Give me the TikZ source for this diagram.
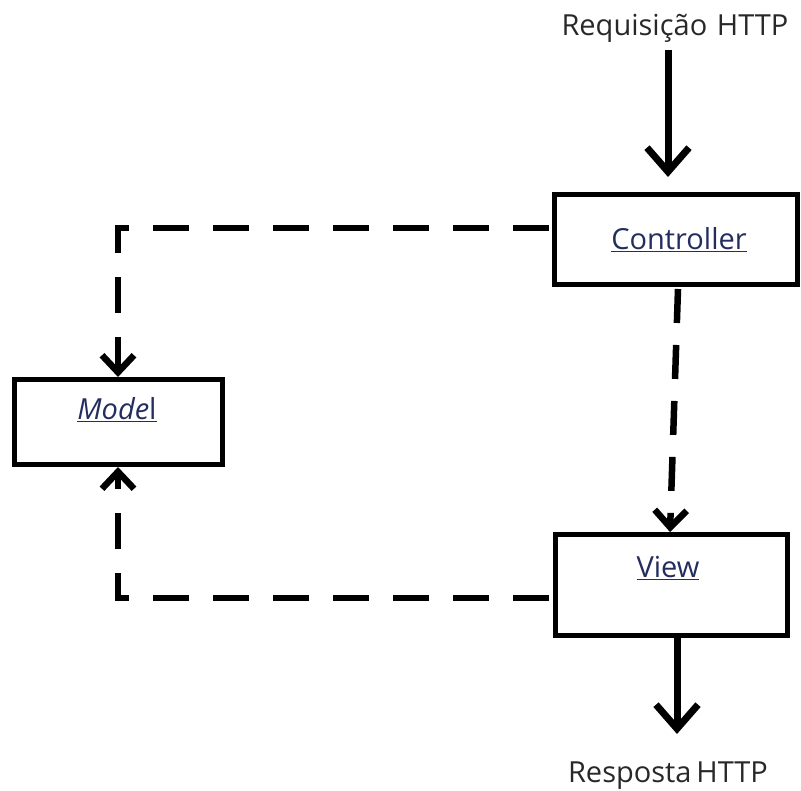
\documentclass[tikz,border=0pt]{standalone}
\usepackage{fontspec}
\setmainfont{Open Sans}
\usetikzlibrary{arrows.meta}
\definecolor{navy}{RGB}{35,45,95}
\definecolor{ink}{RGB}{40,40,40}
\begin{document}
\begin{tikzpicture}[x=1pt,y=-1pt,
 box/.style={draw=black, line width=5pt, fill=white, inner sep=0pt},
 lbl/.style={font=\fontsize{29}{34}\selectfont, text=ink, inner sep=0pt},
 boxtxt/.style={font=\fontsize{29}{34}\selectfont, text=navy, inner sep=0pt},
 bigarrow/.style={line width=7pt, -{Straight Barb[length=24pt,width=42pt]}},
 dasharrow/.style={line width=6.5pt, dash pattern=on 36pt off 24pt, -{Straight Barb[length=17pt,width=32pt]}},
]
\useasboundingbox (0,0) rectangle (801,791);
\node[box, minimum width=243pt, minimum height=90pt] (ctrl) at (676,239.5) {};
\node[box, minimum width=208pt, minimum height=85pt] (model) at (118.5,422) {};
\node[box, minimum width=232pt, minimum height=101pt] (view) at (671.5,585) {};
\node[boxtxt] (ctrltxt) at (679,240) {\underline{Controller}};
\node[boxtxt] (modeltxt) at (117,410) {\underline{\textit{Mode}l}};
\node[boxtxt] (viewtxt) at (668,568) {\underline{View}};
\node[lbl] (req) at (675,28) {Requisição\,\,HTTP};
\node[lbl] (resp) at (668,776) {Resposta\,HTTP};
% connector end points
\coordinate (r1) at (668,50);
\coordinate (r2) at (668,177);
\coordinate (c1) at (549,228);
\coordinate (k1) at (118,228);
\coordinate (m1) at (118,377);
\coordinate (c2) at (678,289);
\coordinate (v1) at (670,532);
\coordinate (v2) at (549,598);
\coordinate (k2) at (118,598);
\coordinate (m2) at (118,467);
\coordinate (v3) at (677,638);
\coordinate (e1) at (677,734);
\draw[bigarrow] (r1) -- (r2);
\draw[bigarrow] (v3) -- (e1);
\draw[dasharrow] (c1) -- (k1) -- (m1);
\draw[dasharrow] (v2) -- (k2) -- (m2);
\draw[dasharrow, dash pattern=on 34pt off 22pt] (c2) -- (v1);
\end{tikzpicture}
\end{document}
